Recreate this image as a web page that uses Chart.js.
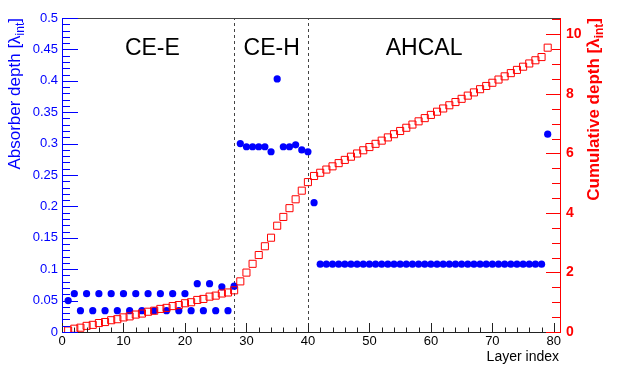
<!DOCTYPE html>
<html lang="en">
<head>
    <meta charset="UTF-8">
    <title>Absorber depth per layer</title>
    <script src="https://cdn.jsdelivr.net/npm/chart.js@4.4.1/dist/chart.umd.min.js"></script>
    <style>
        body { margin: 0; background: #fff; }
        canvas { display: block; }
    </style>
</head>
<body>
    <canvas id="depthChart" width="623" height="370"></canvas>
    <script>
        // layer index (x)
        var layers = [
            1, 2, 3, 4, 5, 6, 7, 8, 9, 10, 11, 12, 13, 14, 15, 16, 17, 18, 19, 20,
            21, 22, 23, 24, 25, 26, 27, 28, 29, 30, 31, 32, 33, 34, 35, 36, 37, 38, 39, 40,
            41, 42, 43, 44, 45, 46, 47, 48, 49, 50, 51, 52, 53, 54, 55, 56, 57, 58, 59, 60,
            61, 62, 63, 64, 65, 66, 67, 68, 69, 70, 71, 72, 73, 74, 75, 76, 77, 78, 79
        ];

        // absorber depth per layer [lambda_int] (left axis, blue dots)
        var absorberDepth = [
            0.050, 0.061, 0.034, 0.061, 0.034, 0.061, 0.034, 0.061, 0.034, 0.061,
            0.034, 0.061, 0.034, 0.061, 0.034, 0.061, 0.034, 0.061, 0.034, 0.061,
            0.034, 0.077, 0.034, 0.077, 0.034, 0.072, 0.034, 0.073,
            0.300, 0.295, 0.295, 0.295, 0.295, 0.287, 0.403, 0.295, 0.295, 0.298, 0.290, 0.287,
            0.206,
            0.108, 0.108, 0.108, 0.108, 0.108, 0.108, 0.108, 0.108, 0.108, 0.108,
            0.108, 0.108, 0.108, 0.108, 0.108, 0.108, 0.108, 0.108, 0.108, 0.108,
            0.108, 0.108, 0.108, 0.108, 0.108, 0.108, 0.108, 0.108, 0.108, 0.108,
            0.108, 0.108, 0.108, 0.108, 0.108, 0.108, 0.108,
            0.315
        ];

        // cumulative depth [lambda_int] (right axis, red open squares)
        var cumulativeDepth = [
            0.050, 0.111, 0.145, 0.206, 0.240, 0.301, 0.335, 0.396, 0.430, 0.491,
            0.525, 0.586, 0.620, 0.681, 0.715, 0.776, 0.810, 0.871, 0.905, 0.966,
            1.000, 1.077, 1.111, 1.188, 1.222, 1.294, 1.328, 1.401,
            1.701, 1.996, 2.291, 2.586, 2.881, 3.168, 3.571, 3.866, 4.161, 4.459, 4.749, 5.036,
            5.242,
            5.350, 5.458, 5.566, 5.674, 5.782, 5.890, 5.998, 6.106, 6.214, 6.322,
            6.430, 6.538, 6.646, 6.754, 6.862, 6.970, 7.078, 7.186, 7.294, 7.402,
            7.510, 7.618, 7.726, 7.834, 7.942, 8.050, 8.158, 8.266, 8.374, 8.482,
            8.590, 8.698, 8.806, 8.914, 9.022, 9.130, 9.238,
            9.553
        ];

        // section boundaries and names
        var boundaries = [28, 40];
        var sectionNames = ["CE-E", "CE-H", "AHCAL"];
        var sectionCentres = [14.7, 34.1, 58.9];

        var xTickLabels = [0, 10, 20, 30, 40, 50, 60, 70, 80];
        var leftTickLabels = [0, 0.05, 0.1, 0.15, 0.2, 0.25, 0.3, 0.35, 0.4, 0.45, 0.5];
        var rightTickLabels = [0, 2, 4, 6, 8, 10];

        var FONT = "'Liberation Sans', Arial, Helvetica, sans-serif";
        var BLUE = "#0000ff";
        var RED = "#ff0000";

        Chart.defaults.font.family = FONT;

        function keepTicks(list) {
            return function (scale) {
                scale.ticks = list.map(function (v) { return { value: v }; });
            };
        }

        // rotated axis title with subscript, ending at the top of the axis
        function drawVTitle(ctx, main, sub, close, font, subFont, color, x, yTop) {
            ctx.save();
            ctx.fillStyle = color;
            ctx.font = font;
            var w1 = ctx.measureText(main).width;
            var w3 = ctx.measureText(close).width;
            ctx.font = subFont;
            var w2 = ctx.measureText(sub).width;
            var total = w1 + w2 + w3;
            ctx.translate(x, yTop);
            ctx.rotate(-Math.PI / 2);
            ctx.textAlign = "left";
            ctx.textBaseline = "alphabetic";
            ctx.font = font;
            ctx.fillText(main, -total, 0);
            ctx.font = subFont;
            ctx.fillText(sub, -total + w1, 4);
            ctx.font = font;
            ctx.fillText(close, -total + w1 + w2, 0);
            ctx.restore();
        }

        var decorations = {
            id: 'decorations',
            beforeDatasetsDraw: function (chart) {
                var ctx = chart.ctx, a = chart.chartArea, xs = chart.scales.x;
                ctx.save();
                ctx.strokeStyle = "#444";
                ctx.lineWidth = 1;
                ctx.setLineDash([3, 3]);
                boundaries.forEach(function (b) {
                    var px = Math.round(xs.getPixelForValue(b)) + 0.5;
                    ctx.beginPath();
                    ctx.moveTo(px, a.bottom);
                    ctx.lineTo(px, a.top);
                    ctx.stroke();
                });
                ctx.setLineDash([]);
                ctx.fillStyle = "#000";
                ctx.font = "23px " + FONT;
                ctx.textAlign = "center";
                ctx.textBaseline = "alphabetic";
                sectionNames.forEach(function (name, i) {
                    ctx.fillText(name, xs.getPixelForValue(sectionCentres[i]), a.top + 37);
                });
                ctx.restore();
            },
            afterDraw: function (chart) {
                var ctx = chart.ctx, a = chart.chartArea;
                var xs = chart.scales.x, yl = chart.scales.y, yr = chart.scales.yR;
                ctx.save();
                ctx.lineWidth = 1;

                // top frame line
                ctx.strokeStyle = "#444";
                ctx.beginPath();
                ctx.moveTo(a.left, a.top + 0.5);
                ctx.lineTo(a.right, a.top + 0.5);
                ctx.stroke();

                // x ticks, pointing up
                ctx.strokeStyle = "#222";
                ctx.beginPath();
                for (var i = 0; i <= 80; i += 2) {
                    var px = Math.round(xs.getPixelForValue(i)) + 0.5;
                    var len = (i % 10 === 0) ? 9 : 4.5;
                    ctx.moveTo(px, a.bottom);
                    ctx.lineTo(px, a.bottom - len);
                }
                ctx.stroke();

                // left ticks, blue
                ctx.strokeStyle = BLUE;
                ctx.beginPath();
                for (var k = 0; k <= 50; k++) {
                    var py = Math.round(yl.getPixelForValue(k / 100)) + 0.5;
                    var l2 = (k % 5 === 0) ? 16 : 8;
                    ctx.moveTo(a.left, py);
                    ctx.lineTo(a.left + l2, py);
                }
                ctx.stroke();

                // right ticks, red
                ctx.strokeStyle = RED;
                ctx.beginPath();
                for (var j = 0; j <= 21; j++) {
                    var qy = Math.round(yr.getPixelForValue(j * 0.5)) + 0.5;
                    var l3 = (j % 4 === 0) ? 14 : 8;
                    ctx.moveTo(a.right, qy);
                    ctx.lineTo(a.right - l3, qy);
                }
                ctx.stroke();

                // axis titles
                drawVTitle(ctx, "Absorber depth [\u03bb", "int", "]",
                    "17px " + FONT, "12px " + FONT, BLUE, 20, a.top);
                drawVTitle(ctx, "Cumulative depth [\u03bb", "int", "]",
                    "bold 17px " + FONT, "bold 12px " + FONT, RED, 599, a.top);

                ctx.fillStyle = "#000";
                ctx.font = "14px " + FONT;
                ctx.textAlign = "right";
                ctx.textBaseline = "alphabetic";
                ctx.fillText("Layer index", a.right - 1, 361);
                ctx.restore();
            }
        };

        var blueData = layers.map(function (x, i) { return { x: x, y: absorberDepth[i] }; });
        var redData = layers.map(function (x, i) { return { x: x, y: cumulativeDepth[i] }; });

        new Chart(document.getElementById("depthChart"), {
            type: 'scatter',
            data: {
                datasets: [
                    {
                        label: 'Cumulative depth',
                        data: redData,
                        yAxisID: 'yR',
                        pointStyle: 'rect',
                        pointRadius: 5,
                        borderColor: RED,
                        backgroundColor: 'rgba(0,0,0,0)',
                        borderWidth: 1,
                        order: 0
                    },
                    {
                        label: 'Absorber depth',
                        data: blueData,
                        yAxisID: 'y',
                        pointStyle: 'circle',
                        pointRadius: 3.6,
                        backgroundColor: BLUE,
                        borderWidth: 0,
                        order: 1
                    }
                ]
            },
            options: {
                responsive: false,
                animation: false,
                devicePixelRatio: 1,
                layout: { padding: { top: 18, left: 0, right: 0, bottom: 0 } },
                plugins: {
                    legend: { display: false },
                    tooltip: { enabled: false }
                },
                scales: {
                    x: {
                        type: 'linear',
                        min: 0,
                        max: 81,
                        afterBuildTicks: keepTicks(xTickLabels),
                        afterFit: function (s) { s.height = 38; },
                        ticks: { color: '#000', font: { size: 13 }, padding: 2, maxRotation: 0, autoSkip: false },
                        grid: { drawOnChartArea: false, drawTicks: false },
                        border: { color: '#222' }
                    },
                    y: {
                        type: 'linear',
                        position: 'left',
                        min: 0,
                        max: 0.5,
                        afterBuildTicks: keepTicks(leftTickLabels),
                        afterFit: function (s) { s.width = 62; },
                        ticks: {
                            color: BLUE,
                            font: { size: 13 },
                            padding: 4,
                            autoSkip: false,
                            callback: function (v) { return String(parseFloat(v.toFixed(2))); }
                        },
                        grid: { drawOnChartArea: false, drawTicks: false },
                        border: { color: BLUE }
                    },
                    yR: {
                        type: 'linear',
                        position: 'right',
                        min: 0,
                        max: 10.55,
                        afterBuildTicks: keepTicks(rightTickLabels),
                        afterFit: function (s) { s.width = 63; },
                        ticks: { color: RED, font: { size: 14, weight: 'bold' }, padding: 6, autoSkip: false },
                        grid: { drawOnChartArea: false, drawTicks: false },
                        border: { color: RED }
                    }
                }
            },
            plugins: [decorations]
        });
    </script>
</body>
</html>
